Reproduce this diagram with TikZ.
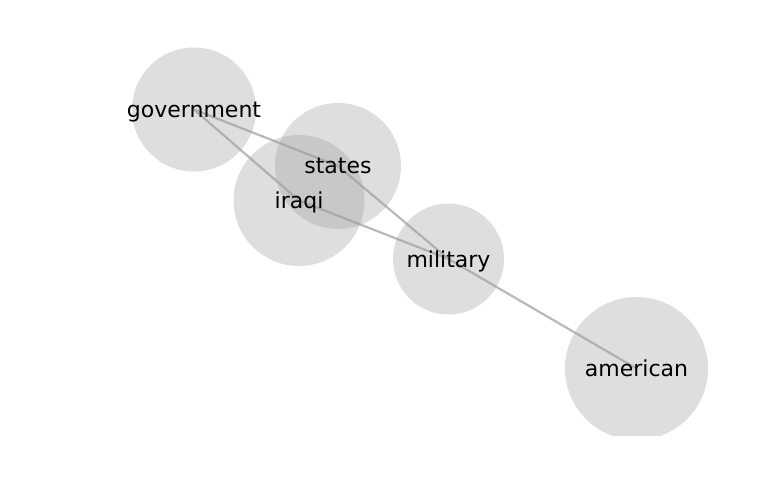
\documentclass[tikz,border=0pt]{standalone}
\usepackage{fontspec}
\setmainfont{DejaVu Sans}
\definecolor{bubblegray}{RGB}{160,160,160}
\definecolor{linkgray}{RGB}{185,185,185}
\pgfdeclarelayer{background}
\pgfdeclarelayer{front}
\pgfsetlayers{background,main,front}
\begin{document}
\begin{tikzpicture}[x=1pt,y=-1pt,
    bubble/.style={circle,inner sep=0pt,draw=none,fill=bubblegray,fill opacity=.35},
    word/.style={text=black,text depth=0pt,font=\fontsize{22}{26}\selectfont},
    link/.style={draw=linkgray,line width=2.2pt}]
  \useasboundingbox (0,0) rectangle (768,500);
  \begin{scope}
    \clip (0,0) rectangle (768,435);
    \node[bubble,minimum size=124pt] (government) at (194,109.5) {};
    \node[bubble,minimum size=126pt] (states) at (338,166) {};
    \node[bubble,minimum size=131pt] (iraqi) at (299,200.5) {};
    \node[bubble,minimum size=111pt] (military) at (448.5,259) {};
    \node[bubble,minimum size=143pt] (american) at (636.5,368.5) {};
  \end{scope}
  \begin{pgfonlayer}{background}
    \draw[link] (government.center) -- (states.center);
    \draw[link] (government.center) -- (iraqi.center);
    \draw[link] (states.center) -- (military.center);
    \draw[link] (iraqi.center) -- (military.center);
    \draw[link] (military.center) -- (american.center);
  \end{pgfonlayer}
  \begin{pgfonlayer}{front}
    \foreach \n in {government,states,iraqi,military,american}
      \node[word] at (\n) {\n};
  \end{pgfonlayer}
\end{tikzpicture}
\end{document}
